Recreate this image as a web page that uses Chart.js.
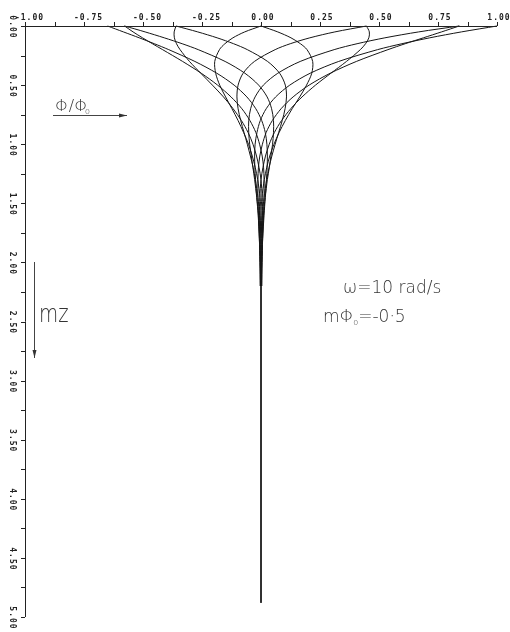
<!DOCTYPE html>
<html>
<head>
<meta charset="utf-8">
<script src="https://cdn.jsdelivr.net/npm/chart.js@4.4.1/dist/chart.umd.min.js"></script>
<style>
  html, body { margin: 0; padding: 0; background: #fff; }
  #wrap { width: 510px; height: 632px; }
</style>
</head>
<body>
<div id="wrap"><canvas id="profile" width="510" height="632"></canvas></div>
<script>
// depth mz (downwards) and phi/phi0 for 12 phases of the cycle
var depth = [0, 0.05, 0.1, 0.15, 0.2, 0.3, 0.4, 0.5, 0.6, 0.7, 0.8, 0.9, 1.0, 1.1, 1.2, 1.3, 1.45, 1.6, 1.8, 2.0, 2.2];

var phase000 = [1.00, 0.849, 0.715, 0.597, 0.494, 0.329, 0.208, 0.122, 0.062, 0.022, -0.003, -0.017, -0.025, -0.027, -0.026, -0.023, -0.018, -0.012, -0.007, -0.003, -0.001];
var phase030 = [0.840, 0.765, 0.688, 0.611, 0.538, 0.404, 0.293, 0.204, 0.136, 0.085, 0.048, 0.022, 0.006, -0.005, -0.011, -0.013, -0.013, -0.011, -0.007, -0.004, -0.002];
var phase060 = [0.447, 0.459, 0.457, 0.443, 0.421, 0.362, 0.296, 0.231, 0.174, 0.126, 0.087, 0.057, 0.035, 0.019, 0.008, 0.000, -0.005, -0.007, -0.006, -0.004, -0.003];
var phase090 = [0, 0.071, 0.127, 0.167, 0.195, 0.219, 0.215, 0.193, 0.164, 0.132, 0.103, 0.077, 0.055, 0.037, 0.024, 0.014, 0.004, -0.001, -0.003, -0.003, -0.003];
var phase120 = [-0.360, -0.268, -0.186, -0.116, -0.058, 0.028, 0.079, 0.103, 0.108, 0.102, 0.090, 0.075, 0.060, 0.046, 0.034, 0.024, 0.013, 0.006, 0.000, -0.001, -0.002];
var phase150 = [-0.578, -0.491, -0.410, -0.334, -0.266, -0.152, -0.068, -0.010, 0.026, 0.045, 0.053, 0.053, 0.049, 0.042, 0.035, 0.027, 0.018, 0.010, 0.004, 0.001, -0.001];
var phase180 = [-0.650, -0.583, -0.516, -0.452, -0.391, -0.280, -0.187, -0.114, -0.060, -0.022, 0.003, 0.018, 0.025, 0.027, 0.026, 0.023, 0.018, 0.013, 0.007, 0.003, 0.001];
var phase210 = [-0.578, -0.542, -0.502, -0.460, -0.417, -0.332, -0.253, -0.184, -0.127, -0.081, -0.047, -0.022, -0.006, 0.005, 0.011, 0.013, 0.013, 0.011, 0.007, 0.004, 0.002];
var phase240 = [-0.360, -0.368, -0.367, -0.358, -0.343, -0.303, -0.255, -0.206, -0.159, -0.118, -0.083, -0.055, -0.034, -0.019, -0.008, 0.000, 0.005, 0.007, 0.006, 0.004, 0.003];
var phase270 = [0, -0.069, -0.119, -0.153, -0.176, -0.196, -0.192, -0.175, -0.150, -0.123, -0.097, -0.074, -0.053, -0.037, -0.024, -0.014, -0.004, 0.001, 0.003, 0.003, 0.003];
var phase300 = [0.447, 0.313, 0.207, 0.124, 0.060, -0.028, -0.076, -0.097, -0.102, -0.097, -0.086, -0.072, -0.058, -0.045, -0.033, -0.024, -0.013, -0.006, 0.000, 0.001, 0.002];
var phase330 = [0.840, 0.668, 0.525, 0.407, 0.310, 0.166, 0.071, 0.010, -0.025, -0.044, -0.052, -0.052, -0.048, -0.041, -0.034, -0.027, -0.018, -0.010, -0.004, -0.001, 0.001];

// below mz ~2.2 everything has died out to a single line
var tailDepth = [2.2, 4.88];
var tailValue = [0, 0];

var xTickValues = [-1, -0.875, -0.75, -0.625, -0.5, -0.375, -0.25, -0.125, 0, 0.125, 0.25, 0.375, 0.5, 0.625, 0.75, 0.875, 1];
var xLabelValues = [-1, -0.75, -0.5, -0.25, 0, 0.25, 0.5, 0.75, 1];
var xLabels = ['-1.00', '-0.75', '-0.50', '-0.25', '0.00', '0.25', '0.50', '0.75', '1.00'];

var yTickValues = [0, 0.25, 0.5, 0.75, 1, 1.25, 1.5, 1.75, 2, 2.25, 2.5, 2.75, 3, 3.25, 3.5, 3.75, 4, 4.25, 4.5, 4.75, 5];
var yLabelValues = [0, 0.5, 1, 1.5, 2, 2.5, 3, 3.5, 4, 4.5, 5];
var yLabels = ['0.00', '0.50', '1.00', '1.50', '2.00', '2.50', '3.00', '3.50', '4.00', '4.50', '5.00'];

var curves = [phase000, phase030, phase060, phase090, phase120, phase150,
              phase180, phase210, phase240, phase270, phase300, phase330];

var datasets = curves.map(function (vals) {
	return {
		data: vals.map(function (v, i) { return { x: v, y: depth[i] }; }),
		borderColor: '#151515',
		borderWidth: 1,
		tension: 0.3,
		clip: false
	};
});
datasets.push({
	data: tailValue.map(function (v, i) { return { x: v, y: tailDepth[i] }; }),
	borderColor: '#151515',
	borderWidth: 1,
	tension: 0,
	clip: false
});

function arrow(ctx, x1, y1, x2, y2) {
	var ang = Math.atan2(y2 - y1, x2 - x1);
	ctx.beginPath();
	ctx.moveTo(x1, y1);
	ctx.lineTo(x2, y2);
	ctx.stroke();
	ctx.beginPath();
	ctx.moveTo(x2, y2);
	ctx.lineTo(x2 - 8 * Math.cos(ang) + 2 * Math.sin(ang), y2 - 8 * Math.sin(ang) - 2 * Math.cos(ang));
	ctx.lineTo(x2 - 8 * Math.cos(ang) - 2 * Math.sin(ang), y2 - 8 * Math.sin(ang) + 2 * Math.cos(ang));
	ctx.closePath();
	ctx.fill();
}

function squeezed(ctx, text, x, y, sx) {
	ctx.save();
	ctx.translate(x, y);
	ctx.scale(sx, 1);
	ctx.fillText(text, 0, 0);
	ctx.restore();
}

var framePlugin = {
	id: 'frame',
	afterDraw: function (chart) {
		var ctx = chart.ctx, a = chart.chartArea;
		var xs = chart.scales.x, ys = chart.scales.y;
		ctx.save();
		ctx.strokeStyle = '#222';
		ctx.fillStyle = '#222';
		ctx.lineWidth = 1;

		// axes and ticks
		ctx.beginPath();
		ctx.moveTo(a.left, a.top + 0.5);
		ctx.lineTo(a.right, a.top + 0.5);
		ctx.moveTo(a.left + 0.5, a.top);
		ctx.lineTo(a.left + 0.5, a.bottom);
		xTickValues.forEach(function (v) {
			var px = Math.round(xs.getPixelForValue(v)) + 0.5;
			ctx.moveTo(px, a.top);
			ctx.lineTo(px, a.top - 4);
		});
		yTickValues.forEach(function (v) {
			var py = Math.round(ys.getPixelForValue(v)) + 0.5;
			ctx.moveTo(a.left, py);
			ctx.lineTo(a.left - 4, py);
		});
		ctx.stroke();

		// tick labels
		ctx.font = 'bold 8px "DejaVu Sans Mono"';
		ctx.letterSpacing = '1px';
		ctx.textAlign = 'center';
		ctx.textBaseline = 'alphabetic';
		xLabelValues.forEach(function (v, i) {
			var px = xs.getPixelForValue(v);
			var off = v < 0 ? 4.5 : 2;
			ctx.fillText(xLabels[i], px + off, 20);
		});
		ctx.textBaseline = 'middle';
		yLabelValues.forEach(function (v, i) {
			var py = ys.getPixelForValue(v);
			ctx.save();
			ctx.translate(12, py + 1);
			ctx.rotate(Math.PI / 2);
			ctx.fillText(yLabels[i], 0, 0);
			ctx.restore();
		});
		ctx.letterSpacing = '0px';

		// annotations
		ctx.fillStyle = '#333';
		ctx.strokeStyle = '#444';
		ctx.textAlign = 'left';
		ctx.textBaseline = 'alphabetic';
		ctx.font = '200 16px "DejaVu Sans"';
		ctx.fillText('\u03A6/\u03A6', 55, 111);
		ctx.font = '200 8px "DejaVu Sans"';
		ctx.fillText('o', 85, 114);
		arrow(ctx, 53, 115.5, 127, 115.5);

		arrow(ctx, 34.5, 262, 34.5, 358);
		ctx.font = '200 24px "DejaVu Sans"';
		squeezed(ctx, 'mz', 39, 322, 0.82);

		ctx.font = '200 17px "DejaVu Sans"';
		ctx.fillText('\u03C9=10 rad/s', 343, 293);
		var x0 = 323;
		ctx.fillText('m\u03A6', x0, 322);
		x0 += ctx.measureText('m\u03A6').width;
		ctx.font = '200 8px "DejaVu Sans"';
		ctx.fillText('o', x0 - 1, 325);
		x0 += 4;
		ctx.font = '200 17px "DejaVu Sans"';
		ctx.fillText('=-0\u00B75', x0, 322);
		ctx.restore();
	}
};

new Chart(document.getElementById('profile'), {
	type: 'scatter',
	data: { datasets: datasets },
	options: {
		responsive: false,
		animation: false,
		showLine: true,
		elements: { point: { radius: 0 } },
		layout: { padding: { left: 25, right: 13, top: 26, bottom: 15 } },
		scales: {
			x: { type: 'linear', min: -1, max: 1, display: false },
			y: { type: 'linear', min: 0, max: 5, reverse: true, display: false }
		},
		plugins: { legend: { display: false }, tooltip: { enabled: false } }
	},
	plugins: [framePlugin]
});
</script>
</body>
</html>
